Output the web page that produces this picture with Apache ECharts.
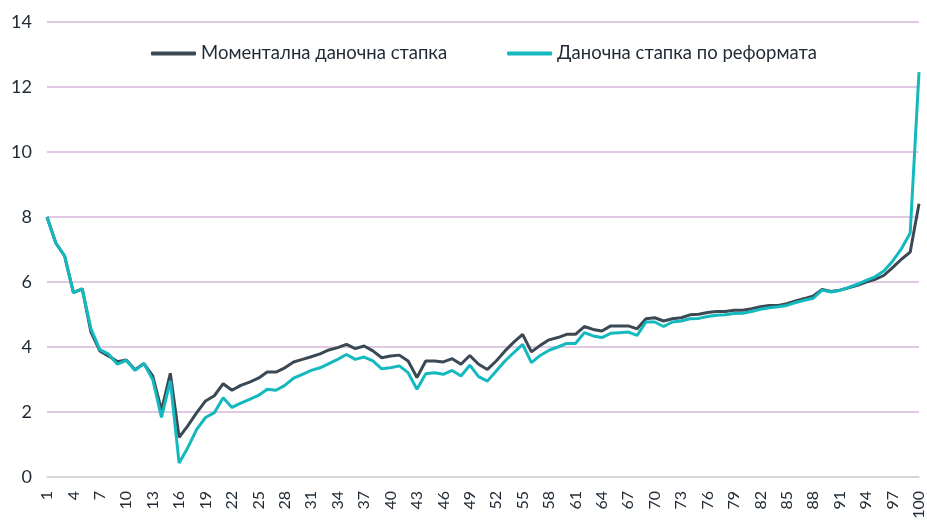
<!DOCTYPE html>
<html>
<head>
<meta charset="utf-8">
<script src="https://cdn.jsdelivr.net/npm/echarts@6/dist/echarts.min.js"></script>
<style>
html,body{margin:0;padding:0;background:#fff;}
#chart{width:927px;height:529px;}
</style>
</head>
<body>
<div id="chart"></div>
<script>
const categories = [];
for (let i = 1; i <= 100; i++) categories.push(String(i));

const seriesNames = ['Моментална даночна стапка', 'Даночна стапка по реформата'];

const currentRate = [
  8.0, 7.2, 6.8, 5.67, 5.79, 4.45, 3.88, 3.72, 3.55, 3.6,
  3.3, 3.49, 3.11, 2.05, 3.19, 1.22, 1.58, 1.98, 2.34, 2.5,
  2.87, 2.67, 2.82, 2.92, 3.04, 3.23, 3.23, 3.36, 3.54, 3.62,
  3.70, 3.79, 3.91, 3.98, 4.08, 3.95, 4.03, 3.88, 3.67, 3.72,
  3.75, 3.57, 3.06, 3.57, 3.57, 3.54, 3.64, 3.47, 3.74, 3.47,
  3.31, 3.57, 3.88, 4.15, 4.39, 3.85, 4.05, 4.22, 4.29, 4.39,
  4.39, 4.63, 4.54, 4.49, 4.65, 4.65, 4.65, 4.56, 4.87, 4.90,
  4.80, 4.87, 4.90, 4.99, 5.01, 5.06, 5.09, 5.09, 5.13, 5.13,
  5.18, 5.24, 5.28, 5.28, 5.33, 5.42, 5.49, 5.57, 5.77, 5.71,
  5.75, 5.82, 5.90, 6.00, 6.08, 6.20, 6.44, 6.70, 6.92, 8.41
];

const reformRate = [
  8.0, 7.2, 6.8, 5.67, 5.79, 4.55, 3.92, 3.78, 3.47, 3.59,
  3.28, 3.49, 3.0, 1.83, 2.96, 0.43, 0.91, 1.47, 1.83, 1.98,
  2.44, 2.14, 2.27, 2.39, 2.51, 2.70, 2.67, 2.82, 3.04, 3.16,
  3.28, 3.36, 3.49, 3.62, 3.77, 3.62, 3.69, 3.57, 3.33, 3.36,
  3.42, 3.21, 2.70, 3.18, 3.21, 3.16, 3.28, 3.11, 3.44, 3.09,
  2.95, 3.26, 3.57, 3.83, 4.08, 3.52, 3.74, 3.90, 4.0, 4.11,
  4.11, 4.44, 4.34, 4.29, 4.42, 4.44, 4.46, 4.36, 4.77, 4.77,
  4.63, 4.77, 4.80, 4.87, 4.88, 4.94, 4.98, 4.99, 5.03, 5.04,
  5.09, 5.16, 5.21, 5.24, 5.28, 5.37, 5.44, 5.50, 5.75, 5.69,
  5.74, 5.83, 5.93, 6.05, 6.16, 6.34, 6.64, 7.02, 7.51, 12.46
];

const yTicks = { min: 0, max: 14, interval: 2 };

const chart = echarts.init(document.getElementById('chart'), null, { renderer: 'canvas' });
const FONT = 'Lato';
chart.setOption({
  animation: false,
  backgroundColor: '#ffffff',
  grid: { left: 47, right: 1, top: 22, bottom: 52, containLabel: false },
  legend: {
    left: 146,
    top: 39,
    padding: 5,
    itemWidth: 45,
    itemHeight: 4,
    itemGap: 60,
    icon: 'roundRect',
    textStyle: { fontFamily: FONT, fontSize: 18.5, color: '#1f2a35' },
    data: seriesNames
  },
  xAxis: {
    type: 'category',
    data: categories,
    boundaryGap: false,
    axisLine: { show: true, lineStyle: { color: '#d9d9d9', width: 1.5 } },
    axisTick: { show: false },
    splitLine: { show: false },
    axisLabel: {
      interval: 2,
      rotate: 90,
      margin: 14,
      fontFamily: FONT,
      fontSize: 16,
      color: '#1f2a35'
    }
  },
  yAxis: {
    type: 'value',
    min: yTicks.min,
    max: yTicks.max,
    interval: yTicks.interval,
    axisLine: { show: false },
    axisTick: { show: false },
    splitLine: { show: true, lineStyle: { color: '#d6b8da', width: 1.5 } },
    axisLabel: { margin: 15, fontFamily: FONT, fontSize: 18, color: '#1f2a35' }
  },
  series: [
    {
      name: seriesNames[0],
      type: 'line',
      data: currentRate,
      symbol: 'none',
      lineStyle: { color: '#3b4955', width: 3 },
      itemStyle: { color: '#3b4955' },
      z: 2
    },
    {
      name: seriesNames[1],
      type: 'line',
      data: reformRate,
      symbol: 'none',
      lineStyle: { color: '#13b9bf', width: 3 },
      itemStyle: { color: '#13b9bf' },
      z: 3
    }
  ]
});
</script>
</body>
</html>
